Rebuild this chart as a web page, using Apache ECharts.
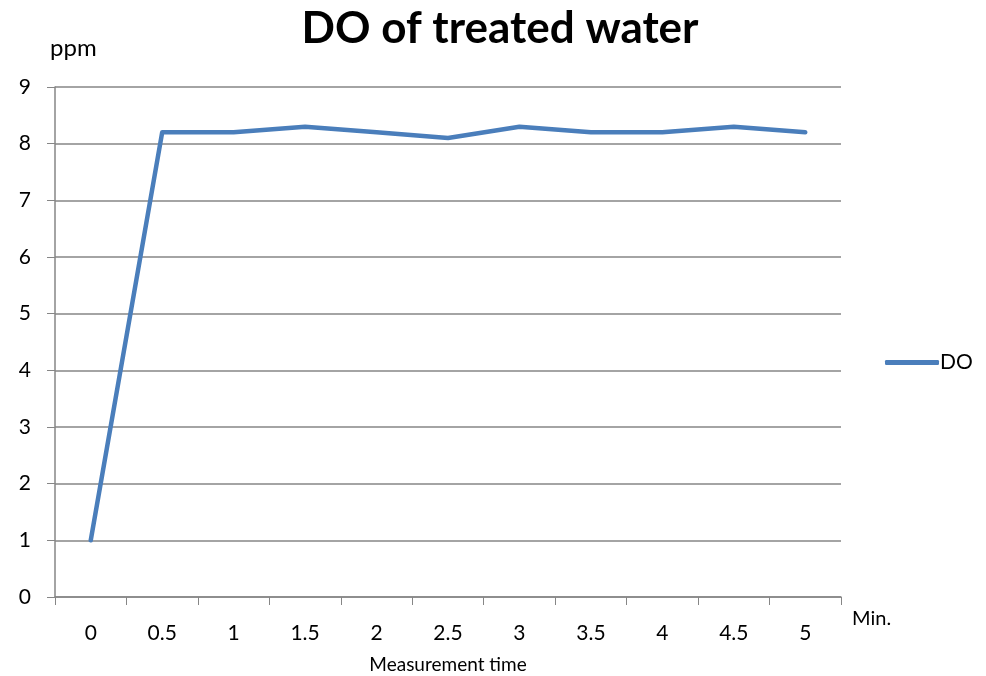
<!DOCTYPE html>
<html lang="en">
<head>
  <meta charset="UTF-8">
  <title>DO of treated water</title>
  <script src="https://cdn.jsdelivr.net/npm/echarts@6/dist/echarts.min.js"></script>
  <style>
    html, body { margin: 0; padding: 0; background: #fff; }
    #main { width: 986px; height: 676px; }
  </style>
</head>
<body>
<div id="main"></div>
<script type="text/javascript">
  // data
  var times = ['0', '0.5', '1', '1.5', '2', '2.5', '3', '3.5', '4', '4.5', '5'];
  var doValues = [1, 8.2, 8.2, 8.3, 8.2, 8.1, 8.3, 8.2, 8.2, 8.3, 8.2];
  var yTicks = [0, 9, 1]; // min, max, step

  var font = 'Lato, "Open Sans", sans-serif';
  var myChart = echarts.init(document.getElementById('main'));

  var option = {
    animation: false,
    title: {
      text: 'DO of treated water',
      left: 495,
      textAlign: 'center',
      top: 2,
      textStyle: { fontFamily: font, fontSize: 44, fontWeight: 'bold', color: '#000' }
    },
    legend: {
      data: ['DO'],
      left: 880,
      top: 347,
      itemWidth: 54,
      itemHeight: 5,
      itemGap: 6,
      icon: 'roundRect',
      textStyle: { fontFamily: font, fontSize: 21, color: '#000', padding: [0, 0, 0, -4] }
    },
    grid: { left: 55, right: 145, top: 87, bottom: 79, outerBoundsMode: 'none' },
    xAxis: {
      type: 'category',
      data: times,
      boundaryGap: true,
      name: 'Measurement time',
      nameLocation: 'middle',
      nameGap: 58,
      nameTextStyle: { fontFamily: font, fontSize: 19, color: '#000' },
      axisLine: { lineStyle: { color: '#868686', width: 1.5 } },
      axisTick: { show: true, length: 8, alignWithLabel: false, lineStyle: { color: '#868686' } },
      axisLabel: { fontFamily: font, fontSize: 21, color: '#000', margin: 26 }
    },
    yAxis: {
      type: 'value',
      min: yTicks[0],
      max: yTicks[1],
      interval: yTicks[2],
      axisLine: { show: true, lineStyle: { color: '#868686', width: 1.5 } },
      axisTick: { show: true, length: 8, lineStyle: { color: '#868686' } },
      axisLabel: { fontFamily: font, fontSize: 21, color: '#000', margin: 24 },
      splitLine: { lineStyle: { color: '#868686', width: 1.5 } }
    },
    graphic: [{
      type: 'text',
      left: 50,
      top: 36,
      style: { text: 'ppm', fontFamily: font, fontSize: 24, fill: '#000' }
    }, {
      type: 'text',
      left: 852,
      top: 609,
      style: { text: 'Min.', fontFamily: font, fontSize: 20, fill: '#000' }
    }],
    series: [{
      name: 'DO',
      type: 'line',
      data: doValues,
      symbol: 'none',
      lineStyle: { color: '#4a7ebb', width: 4.5, cap: 'round', join: 'round' },
      itemStyle: { color: '#4a7ebb' }
    }]
  };
  myChart.setOption(option);
</script>
</body>
</html>
